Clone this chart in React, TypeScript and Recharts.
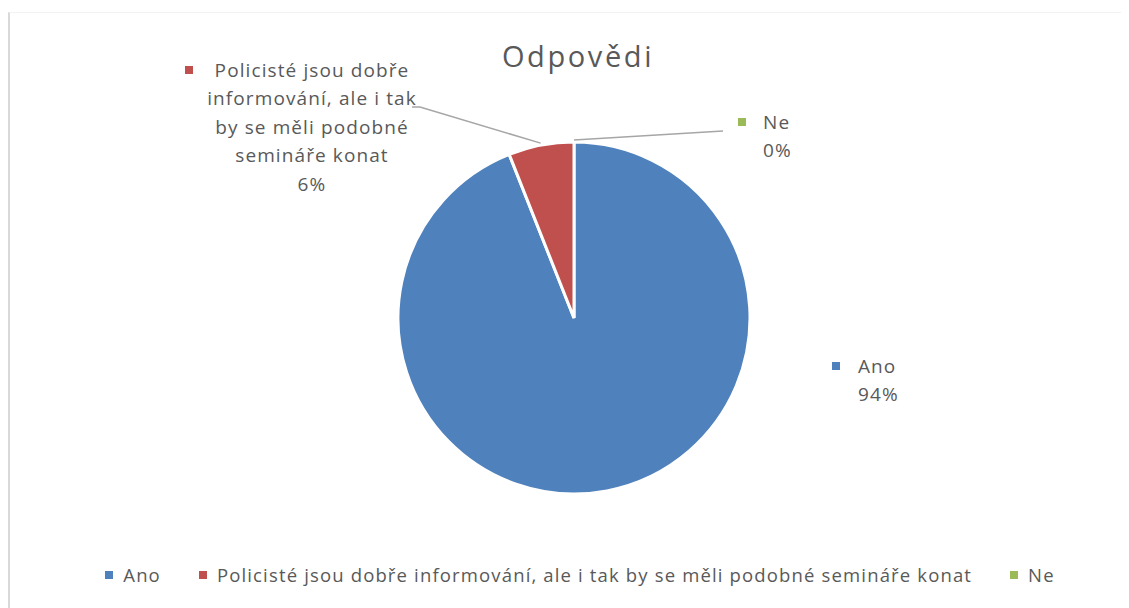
import React from "react";
import { PieChart, Pie, Cell, Legend } from "recharts";

const categories = [
  "Ano",
  "Policisté jsou dobře informování, ale i tak by se měli podobné semináře konat",
  "Ne"
];
const values = [94, 6, 0];
const labelLines = [
  ["Ano", "94%"],
  ["Policisté jsou dobře", "informování, ale i tak", "by se měli podobné", "semináře konat", "6%"],
  ["Ne", "0%"]
];
const colors = ["#4F81BD", "#C0504D", "#9BBB59"];

const data = categories.map((name, i) => ({ name, value: values[i] }));

const FONT = "'Open Sans', 'Noto Sans', sans-serif";
const TEXT = "#595959";
const RAD = Math.PI / 180;

// label box offsets from pie center (Excel "best fit" placement)
const labelLayout = [
  { marker: [262, 48], text: [284, 48], anchor: "start", leader: null },
  { marker: [-385, -248], text: [-262, -248], anchor: "middle", leader: [[-154, -211], [-162, -211]] },
  { marker: [168, -196], text: [189, -196], anchor: "start", leader: [[149, -187]] }
];

const renderLabel = (props: any) => {
  const { cx, cy, midAngle, outerRadius, index } = props;
  const lay = labelLayout[index];
  const lines = labelLines[index];
  const lh = 28.5;
  let leader = null;
  if (lay.leader) {
    const sx = cx + (outerRadius + 2) * Math.cos(-midAngle * RAD);
    const sy = cy + (outerRadius + 2) * Math.sin(-midAngle * RAD);
    const pts = [[sx, sy], ...lay.leader.map(([dx, dy]) => [cx + dx, cy + dy])];
    leader = (
      <polyline
        points={pts.map((p) => p.join(",")).join(" ")}
        fill="none"
        stroke="#a6a6a6"
        strokeWidth={1.5}
      />
    );
  }
  return (
    <g>
      {leader}
      <rect
        x={cx + lay.marker[0] - 4}
        y={cy + lay.marker[1] - 4}
        width={8}
        height={8}
        fill={colors[index]}
      />
      {lines.map((t, k) => (
        <text
          key={k}
          x={cx + lay.text[0]}
          y={cy + lay.text[1] + k * lh}
          dy="0.35em"
          textAnchor={lay.anchor}
          fill={TEXT}
          fontSize={19}
          fontFamily={FONT}
          style={{ letterSpacing: 1.1 }}
        >
          {t}
        </text>
      ))}
    </g>
  );
};

const renderLegend = () => (
  <div
    style={{
      display: "flex",
      justifyContent: "center",
      alignItems: "center",
      paddingLeft: 21,
      fontFamily: FONT,
      fontSize: 18.5,
      letterSpacing: 1.15,
      color: TEXT
    }}
  >
    {categories.map((c, i) => (
      <div key={c} style={{ display: "flex", alignItems: "center", marginRight: i < 2 ? 38 : 0 }}>
        <span style={{ width: 8, height: 8, background: colors[i], marginRight: 10, display: "inline-block" }} />
        <span>{c}</span>
      </div>
    ))}
  </div>
);

export default function App() {
  return (
    <div style={{ paddingTop: 4 }}>
      <div
        style={{
          position: "relative",
          width: 1121,
          height: 596,
          borderLeft: "2px solid #d9d9d9",
          borderTop: "1px solid #f2f2f2",
          boxSizing: "border-box",
          background: "#fff"
        }}
      >
        <div
          style={{
            position: "absolute",
            left: 0,
            width: 1136,
            top: 28,
            textAlign: "center",
            fontFamily: FONT,
            fontSize: 29,
            letterSpacing: 2.6,
            color: TEXT,
            lineHeight: 1
          }}
        >
          Odpovědi
        </div>
        <PieChart width={1119} height={595} margin={{ top: 0, right: 0, bottom: 0, left: 0 }}>
          <Pie
            data={data}
            dataKey="value"
            nameKey="name"
            cx={564}
            cy={305}
            outerRadius={176}
            startAngle={90}
            endAngle={-270}
            stroke="#ffffff"
            strokeWidth={3}
            label={renderLabel}
            labelLine={false}
            isAnimationActive={false}
          >
            {data.map((d, i) => (
              <Cell key={d.name} fill={colors[i]} />
            ))}
          </Pie>
          <Legend content={renderLegend} wrapperStyle={{ left: 0, width: 1119, top: 549 }} />
        </PieChart>
      </div>
    </div>
  );
}
